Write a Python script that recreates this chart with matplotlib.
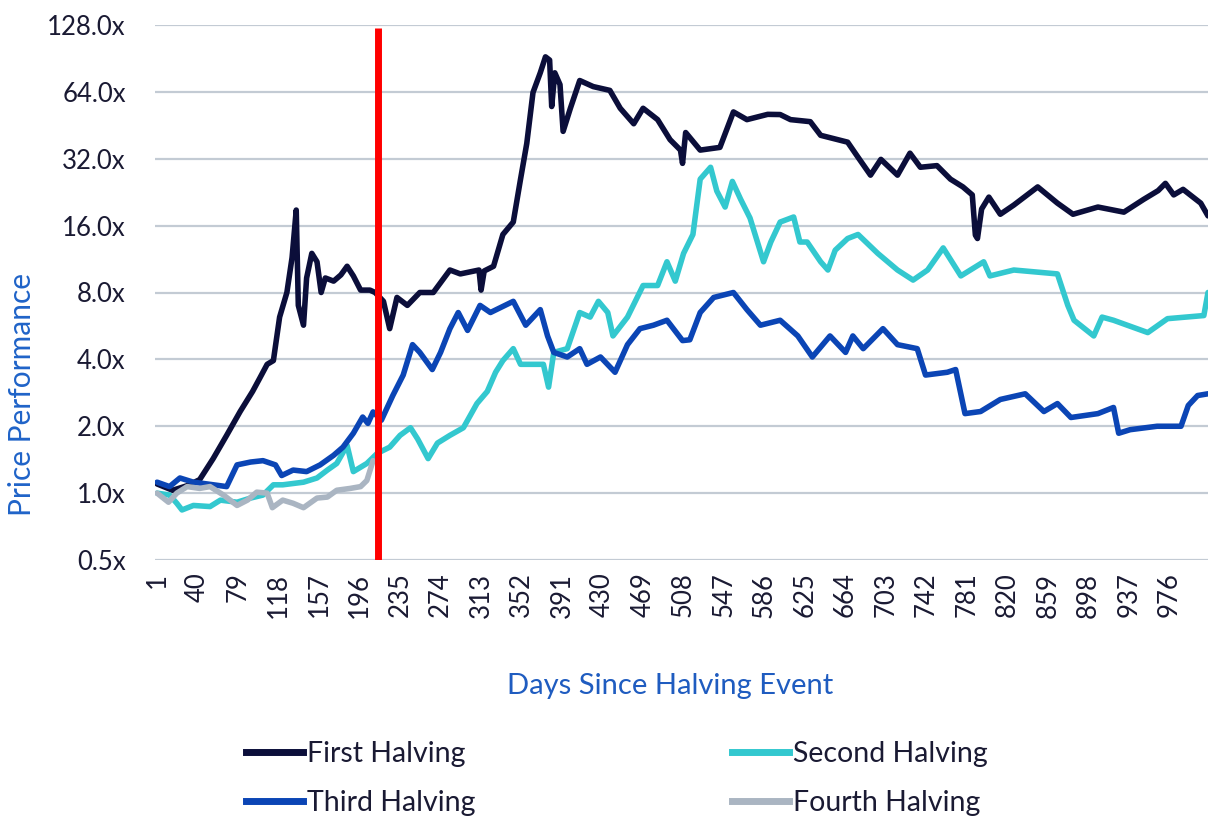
import matplotlib
matplotlib.use("Agg")
import matplotlib.pyplot as plt
from matplotlib.ticker import FixedLocator, FuncFormatter, NullLocator
from matplotlib.lines import Line2D

plt.rcParams['font.family'] = ['Lato', 'DejaVu Sans']

# ---------------- data ----------------
first_days = [1, 16, 30, 42, 55, 68, 81, 93, 100, 107, 113, 119, 126, 131, 135, 137, 142, 145, 150,
              155, 159, 163, 171, 178, 184, 190, 197, 206, 211, 219, 225, 232, 242, 254, 267, 283,
              293, 311, 313, 316, 325, 334, 344, 351, 357, 363, 370, 375, 379, 381, 384, 389, 392,
              399, 408, 421, 437, 447, 460, 469, 483, 495, 505, 507, 510, 524, 543, 556, 569, 589,
              601, 611, 630, 640, 666, 675, 688, 698, 714, 726, 736, 752, 765, 777, 786, 789, 791,
              795, 802, 813, 826, 849, 868, 883, 907, 932, 951, 965, 972, 980, 989, 1006, 1013]
first_vals = [1.1, 1.03, 1.08, 1.15, 1.43, 1.82, 2.33, 2.87, 3.3, 3.8, 3.95, 6.2, 8.0, 11.5, 18.8, 7.0,
              5.7, 9.3, 12.0, 11.0, 8.0, 9.3, 9.0, 9.6, 10.5, 9.5, 8.2, 8.2, 8.0, 7.3, 5.5, 7.6, 7.0,
              8.0, 8.0, 10.1, 9.7, 10.1, 8.2, 10.0, 10.5, 14.6, 16.6, 25.9, 37.5, 63.6, 78, 92, 89,
              55, 78, 69, 42.5, 54, 72, 67.6, 65, 54, 46, 54, 48, 39, 35, 30.5, 42, 35, 36, 52, 48,
              50.7, 50.6, 48, 47, 40.8, 38, 33, 27, 31.8, 27, 33.9, 29.3, 29.8, 25.9, 23.9, 22, 14.5,
              14, 19, 21.5, 18, 19.8, 23.9, 20.2, 18, 19.4, 18.4, 21, 23, 24.8, 22, 23.3, 20.2, 17.7]

second_days = [1, 13, 20, 25, 36, 52, 62, 78, 91, 103, 113, 122, 142, 155, 165, 174, 184, 190, 203,
               213, 225, 235, 245, 252, 262, 271, 283, 296, 309, 319, 327, 334, 344, 351, 363, 373,
               378, 383, 396, 408, 418, 426, 435, 440, 454, 469, 483, 492, 500, 508, 517, 524, 534,
               540, 548, 555, 563, 572, 585, 592, 601, 614, 620, 627, 640, 647, 654, 666, 676, 695,
               714, 729, 743, 758, 775, 797, 803, 826, 868, 878, 884, 903, 911, 922, 955, 974, 1009,
               1013]
second_vals = [1.0, 0.98, 0.9, 0.84, 0.88, 0.87, 0.93, 0.91, 0.95, 0.98, 1.09, 1.09, 1.12, 1.17, 1.27,
               1.36, 1.64, 1.25, 1.36, 1.51, 1.61, 1.82, 1.97, 1.75, 1.43, 1.68, 1.82, 1.97, 2.53,
               2.87, 3.5, 3.95, 4.47, 3.8, 3.8, 3.8, 3.0, 4.3, 4.47, 6.5, 6.2, 7.3, 6.5, 5.1, 6.2,
               8.6, 8.6, 11, 9, 12, 14.6, 25.9, 29.3, 22.9, 19.4, 25.3, 21, 17.3, 11, 13.5, 16.6,
               17.5, 13.5, 13.5, 11, 10.1, 12.4, 14, 14.6, 12, 10.1, 9.1, 10.1, 12.7, 9.5, 11, 9.5,
               10.1, 9.7, 7.0, 6.0, 5.1, 6.2, 6.0, 5.28, 6.1, 6.3, 8.0]

third_days = [1, 13, 23, 36, 49, 68, 78, 91, 103, 115, 121, 132, 145, 158, 171, 180, 190, 199, 204,
              209, 217, 228, 238, 247, 254, 266, 274, 283, 291, 300, 312, 322, 344, 356, 370, 377,
              383, 396, 408, 415, 428, 442, 454, 466, 479, 492, 507, 514, 524, 537, 556, 569, 582,
              601, 618, 632, 649, 664, 671, 681, 700, 714, 733, 741, 762, 770, 779, 794, 813, 837,
              855, 868, 881, 907, 922, 927, 938, 964, 987, 994, 1003, 1013]
third_vals = [1.12, 1.07, 1.17, 1.12, 1.1, 1.07, 1.34, 1.38, 1.4, 1.34, 1.2, 1.27, 1.25, 1.34, 1.48,
              1.61, 1.86, 2.2, 2.06, 2.32, 2.13, 2.75, 3.4, 4.66, 4.3, 3.6, 4.3, 5.5, 6.5, 5.4, 7.0,
              6.5, 7.3, 5.7, 6.7, 5.1, 4.3, 4.1, 4.47, 3.8, 4.1, 3.5, 4.66, 5.5, 5.7, 6.0, 4.86, 4.9,
              6.5, 7.6, 8.0, 6.7, 5.7, 6.0, 5.1, 4.1, 5.1, 4.3, 5.1, 4.47, 5.5, 4.66, 4.47, 3.4, 3.5,
              3.6, 2.28, 2.33, 2.64, 2.8, 2.33, 2.53, 2.19, 2.28, 2.43, 1.86, 1.93, 2.0, 2.0, 2.48,
              2.75, 2.8]

fourth_days = [1, 12, 20, 30, 42, 52, 65, 78, 88, 97, 107, 112, 122, 132, 142, 155, 165, 174, 187,
               197, 203, 209]
fourth_vals = [1.0, 0.91, 1.0, 1.07, 1.05, 1.07, 0.98, 0.88, 0.93, 1.01, 1.0, 0.86, 0.93, 0.9, 0.86,
               0.95, 0.96, 1.03, 1.05, 1.07, 1.14, 1.4]

series_names = ["First Halving", "Second Halving", "Third Halving", "Fourth Halving"]
series_colors = ["#0b0e3a", "#33c8cf", "#0b45b5", "#aab5c2"]

x_ticks = list(range(1, 1000, 39))
y_ticks = [0.5, 1, 2, 4, 8, 16, 32, 64, 128]
marker_day = 214

# ---------------- figure ----------------
fig = plt.figure(figsize=(12.08, 8.16), dpi=100)
ax = fig.add_axes([155 / 1208, 1 - 560 / 816, 1 - 155 / 1208, (560 - 25) / 816])

ax.set_yscale('log', base=2)
ax.set_ylim(0.5, 128)
ax.set_xlim(-1, 1013)

for yv in y_ticks:
    ax.axhline(yv, color="#c3cbd4", lw=1.6, zorder=0)

data = [(first_days, first_vals), (second_days, second_vals),
        (third_days, third_vals), (fourth_days, fourth_vals)]
for (d, v), c in zip(data, series_colors):
    ax.plot(d, v, color=c, lw=4.0, solid_joinstyle='round', solid_capstyle='round', zorder=2)

ax.plot([marker_day, marker_day], [0.5, 124], color="#ff0000", lw=5.0, zorder=5,
        solid_capstyle='butt')

ax.yaxis.set_major_locator(FixedLocator(y_ticks))
ax.yaxis.set_minor_locator(NullLocator())
ax.yaxis.set_major_formatter(FuncFormatter(lambda v, p: f"{v:.1f}x"))
ax.xaxis.set_major_locator(FixedLocator(x_ticks))
ax.set_xticklabels([str(t) for t in x_ticks], rotation=90)

ax.tick_params(axis='both', length=0, labelsize=18.5, labelcolor="#1a1a33")
ax.tick_params(axis='y', pad=21)
ax.tick_params(axis='x', pad=9)
for s in ax.spines.values():
    s.set_visible(False)

fig.text(22 / 1208, 1 - 395 / 816, "Price Performance", rotation=90, color="#1f63c8",
         fontsize=21.5, ha='center', va='center')
fig.text(670 / 1208, 1 - 686 / 816, "Days Since Halving Event", color="#1f5cc0",
         fontsize=21, ha='center', va='center')

handles = [Line2D([0], [0], color=c, lw=5) for c in series_colors]
order = [0, 2, 1, 3]
fig.legend([handles[i] for i in order], [series_names[i] for i in order],
           ncol=2, loc='upper left', bbox_to_anchor=(232 / 1208, 1 - 727 / 816),
           frameon=False, fontsize=20.5, handlelength=2.0, handletextpad=0.15,
           columnspacing=9.0, labelspacing=0.8, labelcolor="#1a1a33", borderpad=0)

fig.savefig("out.png", dpi=100, facecolor="white")
